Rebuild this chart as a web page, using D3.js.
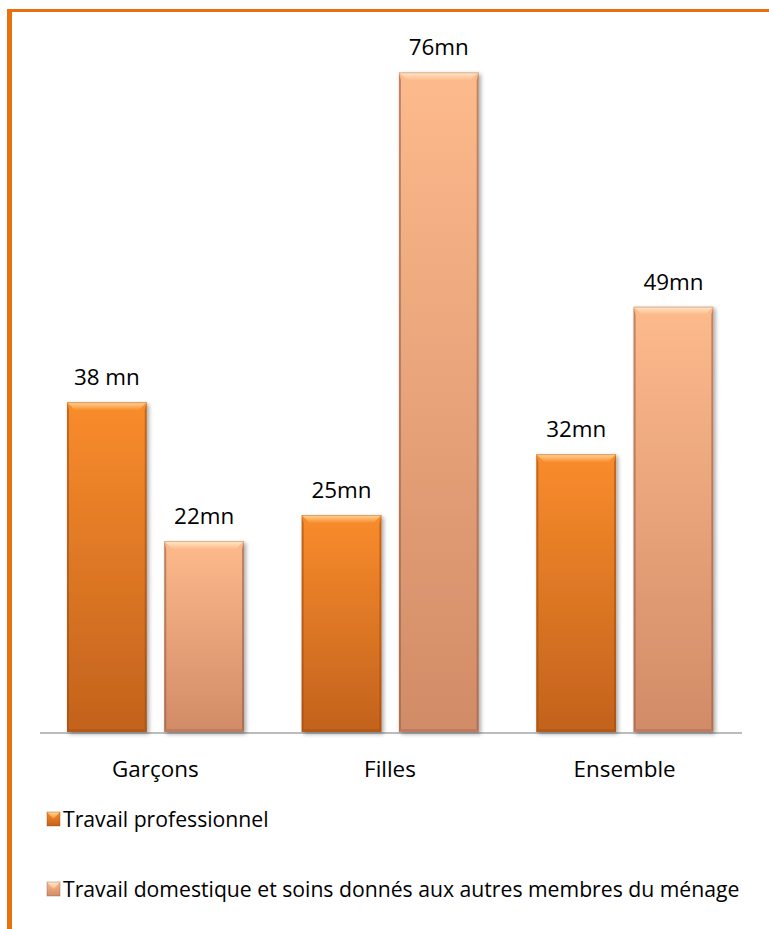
<!DOCTYPE html>
<html>
<head>
<meta charset="utf-8">
<script src="https://cdn.jsdelivr.net/npm/d3@7/dist/d3.min.js"></script>
<style>
html,body{margin:0;padding:0;background:#fff;}
svg{display:block;font-family:"Open Sans",sans-serif;}
</style>
</head>
<body>
<script>
const categories = ["Garçons", "Filles", "Ensemble"];
const seriesNames = ["Travail professionnel", "Travail domestique et soins donnés aux autres membres du ménage"];
const professionnel = [38, 25, 32];
const domestique = [22, 76, 49];
const labelsPro = ["38 mn", "25mn", "32mn"];
const labelsDom = ["22mn", "76mn", "49mn"];

const W = 769, H = 929;
const svg = d3.select("body").append("svg").attr("width", W).attr("height", H);
const defs = svg.append("defs");

const palettes = [
  {top:"#F98C2C", bottom:"#C2621D", hi:"#FFD79A", edge:"#9A4A12", bot:"#A85516"},
  {top:"#FDBA8C", bottom:"#D28B67", hi:"#FFE9C8", edge:"#8C5A44", bot:"#B0735A"}
];
palettes.forEach((p,i)=>{
  const g = defs.append("linearGradient").attr("id","body"+i).attr("x1",0).attr("x2",0).attr("y1",0).attr("y2",1);
  g.append("stop").attr("offset","0%").attr("stop-color",p.top);
  g.append("stop").attr("offset","100%").attr("stop-color",p.bottom);
  const h = defs.append("linearGradient").attr("id","hi"+i).attr("x1",0).attr("x2",0).attr("y1",0).attr("y2",1);
  h.append("stop").attr("offset","0%").attr("stop-color",p.hi);
  h.append("stop").attr("offset","100%").attr("stop-color",p.top);
});
const f = defs.append("filter").attr("id","shadow").attr("x","-20%").attr("y","-5%").attr("width","140%").attr("height","115%");
f.append("feGaussianBlur").attr("in","SourceAlpha").attr("stdDeviation",2);
f.append("feOffset").attr("dx",2).attr("dy",2).attr("result","b");
f.append("feComponentTransfer").append("feFuncA").attr("type","linear").attr("slope",0.35);
const fm = f.append("feMerge"); fm.append("feMergeNode"); fm.append("feMergeNode").attr("in","SourceGraphic");

// frame
svg.append("rect").attr("x",7).attr("y",9).attr("width",W-7).attr("height",3).attr("fill","#E8700F");
svg.append("rect").attr("x",7).attr("y",9).attr("width",5).attr("height",H-9).attr("fill","#E8700F");

const x0 = d3.scaleBand().domain(categories).range([38, 742]).paddingInner(0).paddingOuter(0);
const x1 = d3.scaleBand().domain([0,1]).range([29, 29+177]).paddingInner(0.18);
const y = d3.scaleLinear().domain([0, 80]).range([732, 732 - 80*8.68]);

const data = categories.map((c,i)=>({cat:c, vals:[professionnel[i], domestique[i]], labels:[labelsPro[i], labelsDom[i]]}));

// axis line
const axis = svg.append("g").attr("transform","translate(0,733)");
axis.call(d3.axisBottom(x0).tickSize(0).tickPadding(0).tickFormat(""));
axis.select(".domain").attr("stroke","#A6A6A6").attr("stroke-width",1.6).attr("d","M40,0H742");

const groups = svg.selectAll("g.grp").data(data).enter().append("g")
  .attr("transform", d=>`translate(${x0(d.cat)},0)`);

groups.each(function(d){
  const g = d3.select(this);
  d.vals.forEach((v,i)=>{
    const bx = x1(i), bw = x1.bandwidth(), by = y(v), bh = y(0)-y(v);
    const p = palettes[i];
    const bar = g.append("g").attr("filter","url(#shadow)");
    bar.append("rect").attr("x",bx).attr("y",by).attr("width",bw).attr("height",bh).attr("fill",`url(#body${i})`);
    const b = 8;
    bar.append("polygon").attr("points",`${bx},${by} ${bx+2},${by+b} ${bx+2},${by+bh-3} ${bx},${by+bh}`).attr("fill",p.edge).attr("opacity",0.55);
    bar.append("polygon").attr("points",`${bx+bw},${by} ${bx+bw-2},${by+b} ${bx+bw-2},${by+bh-3} ${bx+bw},${by+bh}`).attr("fill",p.edge).attr("opacity",0.55);
    bar.append("polygon").attr("points",`${bx},${by+bh} ${bx+2},${by+bh-3} ${bx+bw-2},${by+bh-3} ${bx+bw},${by+bh}`).attr("fill",p.bot).attr("opacity",0.6);
    bar.append("polygon").attr("points",`${bx},${by} ${bx+bw},${by} ${bx+bw-b},${by+b} ${bx+b},${by+b}`).attr("fill",`url(#hi${i})`);
    bar.append("rect").attr("x",bx).attr("y",by).attr("width",bw).attr("height",1).attr("fill",p.edge).attr("opacity",0.35);
    g.append("text").attr("x",bx+bw/2).attr("y",by-17).attr("text-anchor","middle")
      .attr("font-size",22.4).attr("fill","#000").text(d.labels[i]);
  });
  g.append("text").attr("x",x0.bandwidth()/2).attr("y",777).attr("text-anchor","middle")
    .attr("font-size",22.4).attr("fill","#000").text(d.cat);
});

// legend
const legY = [812, 882];
seriesNames.forEach((s,i)=>{
  const p = palettes[i];
  const lg = svg.append("g").attr("transform",`translate(47,${legY[i]})`);
  lg.append("rect").attr("width",13).attr("height",14).attr("fill",`url(#body${i})`);
  lg.append("polygon").attr("points","0,0 13,0 6.5,7").attr("fill",`url(#hi${i})`);
  lg.append("rect").attr("width",13).attr("height",14).attr("fill","none").attr("stroke",p.edge).attr("stroke-opacity",0.5).attr("stroke-width",0.8);
  lg.append("text").attr("x",16).attr("y",15).attr("font-size",21.2).attr("fill","#000").text(s);
});
</script>
</body>
</html>
